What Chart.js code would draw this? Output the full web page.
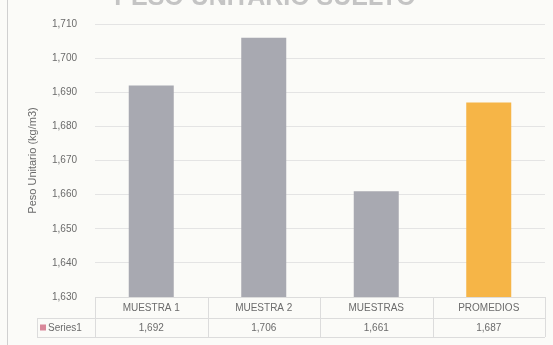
<!DOCTYPE html>
<html>
<head>
<meta charset="utf-8">
<script src="https://cdn.jsdelivr.net/npm/chart.js@4"></script>
<style>
  html, body { margin: 0; padding: 0; background: #fbfbf8; }
  #wrap { width: 553px; height: 345px; position: relative; }
</style>
</head>
<body>
<div id="wrap"><canvas id="chart"></canvas></div>
<script>
// Peso unitario suelto por muestra (kg/m3)
var categories = ['MUESTRA 1', 'MUESTRA 2', 'MUESTRAS', 'PROMEDIOS'];
var seriesName = 'Series1';
var values = [1692, 1706, 1661, 1687];
var barColors = ['#a8a9b1', '#a8a9b1', '#a8a9b1', '#f6b547'];
var yTicks = [1630, 1640, 1650, 1660, 1670, 1680, 1690, 1700, 1710];

var titleText = 'PESO UNITARIO SUELTO';
var textColor = '#6b6b6b';
var lineColor = '#dcdcdc';

function fmt(v) {
  return v.toLocaleString('en-US');
}

// title sits mostly above the top edge, only its lower part is visible
var titlePlugin = {
  id: 'topTitle',
  afterDraw: function (chart) {
    var ctx = chart.ctx;
    ctx.save();
    ctx.fillStyle = '#c4c4c4';
    ctx.font = 'bold 25px "Liberation Sans", Arial, sans-serif';
    ctx.textAlign = 'center';
    ctx.textBaseline = 'alphabetic';
    ctx.fillText(titleText, 265, 5);
    // left frame edge
    ctx.strokeStyle = '#d0d0d0';
    ctx.lineWidth = 1;
    ctx.beginPath();
    ctx.moveTo(7.5, 0);
    ctx.lineTo(7.5, 345);
    ctx.stroke();
    ctx.restore();
  }
};

// data table under the plot: category row + Series1 row
var tablePlugin = {
  id: 'dataTable',
  afterDraw: function (chart) {
    var ctx = chart.ctx;
    var x = chart.scales.x;
    var area = chart.chartArea;
    var colW = (area.right - area.left) / categories.length;
    var top = area.bottom;
    var mid = top + 21;
    var bot = mid + 19;
    var left = 37;

    ctx.save();
    ctx.strokeStyle = lineColor;
    ctx.lineWidth = 1;
    ctx.beginPath();
    // horizontal rules
    ctx.moveTo(area.left, top + 0.5); ctx.lineTo(area.right, top + 0.5);
    ctx.moveTo(left, mid + 0.5); ctx.lineTo(area.right, mid + 0.5);
    ctx.moveTo(left, bot + 0.5); ctx.lineTo(area.right, bot + 0.5);
    // column separators
    for (var i = 0; i <= categories.length; i++) {
      var cx = Math.round(area.left + i * colW) + 0.5;
      ctx.moveTo(cx, top); ctx.lineTo(cx, bot);
    }
    ctx.moveTo(left + 0.5, mid); ctx.lineTo(left + 0.5, bot);
    ctx.stroke();

    ctx.fillStyle = textColor;
    ctx.font = '10px "Liberation Sans", Arial, sans-serif';
    ctx.textAlign = 'center';
    ctx.textBaseline = 'middle';
    for (var j = 0; j < categories.length; j++) {
      var px = x.getPixelForValue(j);
      ctx.fillText(categories[j], px, (top + mid) / 2 + 1);
      ctx.fillText(fmt(values[j]), px, (mid + bot) / 2 + 1);
    }

    // legend key + series name
    ctx.fillStyle = '#d9889a';
    ctx.fillRect(left + 3, (mid + bot) / 2 - 3, 6, 6);
    ctx.fillStyle = textColor;
    ctx.textAlign = 'left';
    ctx.fillText(seriesName, left + 11, (mid + bot) / 2 + 1);
    ctx.restore();
  }
};

var bgPlugin = {
  id: 'bg',
  beforeDraw: function (chart) {
    var ctx = chart.ctx;
    ctx.save();
    ctx.fillStyle = '#fbfbf8';
    ctx.fillRect(0, 0, chart.width, chart.height);
    ctx.restore();
  }
};

var chart = new Chart(document.getElementById('chart'), {
  type: 'bar',
  data: {
    labels: categories,
    datasets: [{
      label: seriesName,
      data: values,
      backgroundColor: barColors,
      borderWidth: 0,
      barPercentage: 0.8,
      categoryPercentage: 0.5
    }]
  },
  options: {
    responsive: true,
    maintainAspectRatio: false,
    animation: false,
    layout: { padding: { top: 23, right: 8, bottom: 48, left: 26 } },
    plugins: {
      legend: { display: false },
      tooltip: { enabled: false },
      title: { display: false }
    },
    scales: {
      x: {
        afterFit: function (scale) { scale.height = 0; },
        ticks: { display: false },
        grid: { display: false },
        border: { display: false }
      },
      y: {
        min: 1630,
        max: 1710,
        afterFit: function (scale) { scale.width = 69; },
        afterBuildTicks: function (scale) {
          scale.ticks = yTicks.map(function (v) { return { value: v }; });
        },
        ticks: {
          color: textColor,
          font: { size: 10, family: '"Liberation Sans", Arial, sans-serif' },
          padding: 18,
          callback: function (v) { return fmt(v); }
        },
        grid: { color: '#e4e4e4', drawTicks: false },
        border: { display: false },
        title: {
          display: true,
          text: 'Peso Unitario (kg/m3)',
          color: textColor,
          font: { size: 11, family: '"Liberation Sans", Arial, sans-serif' },
          padding: { top: 0, bottom: 6 }
        }
      }
    }
  },
  plugins: [bgPlugin, titlePlugin, tablePlugin]
});
</script>
</body>
</html>
